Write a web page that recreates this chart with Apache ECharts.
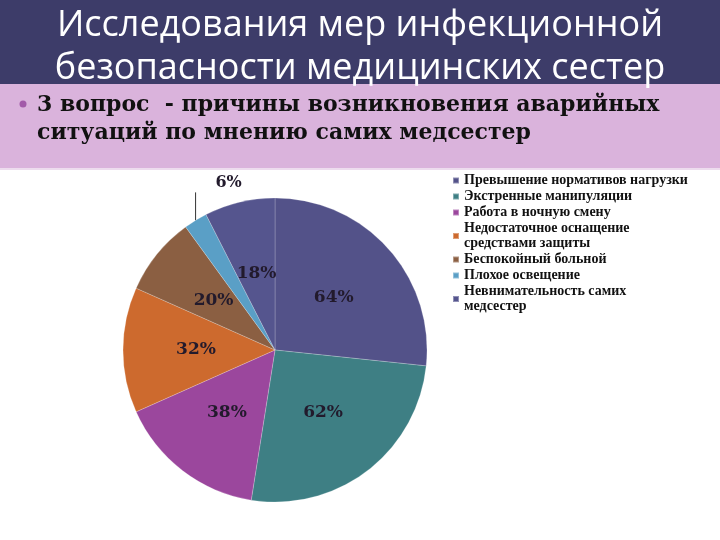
<!DOCTYPE html>
<html>
<head>
<meta charset="utf-8">
<script src="https://cdn.jsdelivr.net/npm/echarts@6/dist/echarts.min.js"></script>
<style>
  html, body { margin: 0; padding: 0; background: #ffffff; }
  #chart { width: 720px; height: 540px; }
</style>
</head>
<body>
<div id="chart"></div>
<script>
// ---- data ----
var titleLines = ['Исследования мер инфекционной', 'безопасности медицинских сестер'];
var subtitleLines = ['3 вопрос  - причины возникновения аварийных', 'ситуаций по мнению самих медсестер'];
var categories = [
  'Превышение нормативов нагрузки',
  'Экстренные манипуляции',
  'Работа в ночную смену',
  'Недостаточное оснащение\nсредствами защиты',
  'Беспокойный больной',
  'Плохое освещение',
  'Невнимательность самих\nмедсестер'
];
var values = [64, 62, 38, 32, 20, 6, 18];
var labels = ['64%', '62%', '38%', '32%', '20%', '6%', '18%'];
var sliceColors = ['#535289', '#3e7f84', '#9b479d', '#cd6a2e', '#8b5f42', '#5a9fc6', '#55558e'];
var outsideIndex = 5;

// ---- chart ----
var chart = echarts.init(document.getElementById('chart'), null, { renderer: 'canvas' });

var pieData = categories.map(function (name, i) {
  var item = { name: name, value: values[i], itemStyle: { color: sliceColors[i] } };
  if (i === outsideIndex) {
    item.label = { position: 'outside', fontSize: 16 };
    item.labelLine = { show: true, length: 20, length2: 0, lineStyle: { color: '#333', width: 1 } };
  }
  return item;
});

var option = {
  backgroundColor: '#ffffff',
  animation: false,
  graphic: [
    { type: 'rect', left: 0, top: 0, shape: { width: 720, height: 84 }, style: { fill: '#3d3c69' }, z: 0 },
    { type: 'rect', left: 0, top: 84, shape: { width: 720, height: 84 }, style: { fill: '#dab3dc' }, z: 0 },
    { type: 'rect', left: 0, top: 168, shape: { width: 720, height: 2 }, style: { fill: '#eddcee' }, z: 0 },
    { type: 'text', x: 360, y: 26, z: 2, style: { text: titleLines[0], fill: '#ffffff', font: '36px "Open Sans"', align: 'center', verticalAlign: 'middle' } },
    { type: 'text', x: 360, y: 69, z: 2, style: { text: titleLines[1], fill: '#ffffff', font: '36px "Open Sans"', align: 'center', verticalAlign: 'middle' } },
    { type: 'circle', z: 2, shape: { cx: 23, cy: 104, r: 3.5 }, style: { fill: '#a25aa9' } },
    { type: 'text', x: 37, y: 105, z: 2, style: { text: subtitleLines[0], fill: '#111111', font: 'bold 22px "DejaVu Serif"', align: 'left', verticalAlign: 'middle' } },
    { type: 'text', x: 37, y: 133, z: 2, style: { text: subtitleLines[1], fill: '#111111', font: 'bold 22px "DejaVu Serif"', align: 'left', verticalAlign: 'middle' } }
  ],
  legend: {
    orient: 'vertical',
    left: 447,
    top: 168,
    itemWidth: 6,
    itemHeight: 6,
    itemGap: 1,
    icon: 'rect',
    data: categories,
    textStyle: {
      fontFamily: '"Liberation Serif"',
      fontWeight: 'bold',
      fontSize: 14,
      lineHeight: 15,
      color: '#111111'
    }
  },
  series: [{
    type: 'pie',
    center: [275, 350],
    radius: 152,
    startAngle: 90,
    clockwise: true,
    avoidLabelOverlap: false,
    data: pieData,
    itemStyle: { borderColor: 'rgba(255,255,255,0.35)', borderWidth: 0.6 },
    label: {
      show: true,
      position: 'inside',
      formatter: function (p) { return labels[p.dataIndex]; },
      fontFamily: '"DejaVu Serif"',
      fontWeight: 'bold',
      fontSize: 17,
      color: '#221a2c'
    },
    labelLine: { show: false },
    labelLayout: function (params) {
      if (params.dataIndex !== outsideIndex || !params.labelLinePoints) return {};
      var p0 = params.labelLinePoints[0];
      var topY = p0[1] - 28;
      return {
        x: p0[0] + 33,
        y: topY - 10,
        align: 'center',
        verticalAlign: 'middle',
        labelLinePoints: [[p0[0], p0[1]], [p0[0], topY], [p0[0], topY]]
      };
    }
  }]
};

chart.setOption(option);
</script>
</body>
</html>
